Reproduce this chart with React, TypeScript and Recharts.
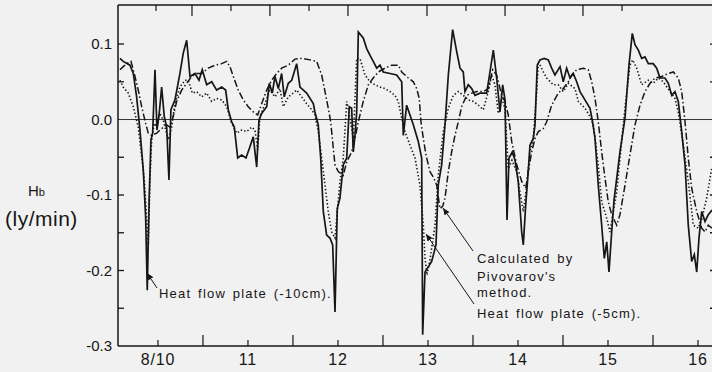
import React from 'react';
import { LineChart, Line, XAxis, YAxis, ReferenceLine } from 'recharts';

const FONT = '"Liberation Sans", Arial, Helvetica, sans-serif';
const INK = '#161616';
const PAPER = '#f1f1f1';

// Axes
const xDomain: [number, number] = [9.556, 16.2];
const yDomain: [number, number] = [-0.3, 0.1517];
const dayTicks = [10, 10.5, 11, 11.5, 12, 12.5, 13, 13.5, 14, 14.5, 15, 15.5, 16];
const dayLabels: Record<string, string> = {
  '10': '8/10', '11': '11', '12': '12', '13': '13', '14': '14', '15': '15', '16': '16',
};
const topTicks = [9.978, 10.378, 10.811, 11.244, 11.678, 12.111, 12.556, 12.989, 13.422, 13.856, 14.289, 14.722, 15.156];
const yTicks = [-0.25, -0.2, -0.15, -0.1, -0.05, 0.05, 0.1];
const yLabelTicks = [-0.3, -0.2, -0.1, 0, 0.1];

// Chart geometry (layout)
const CHART_W = 740;
const CHART_H = 372;
const MARGIN = { top: 5, right: 24, bottom: 0, left: 58 };
const Y_AXIS_W = 60;
const X_AXIS_H = 26;
const PLOT = {
  left: MARGIN.left + Y_AXIS_W,
  top: MARGIN.top,
  width: CHART_W - MARGIN.left - Y_AXIS_W - MARGIN.right,
  height: CHART_H - MARGIN.top - MARGIN.bottom - X_AXIS_H,
};
const sx = (d: number) => PLOT.left + ((d - xDomain[0]) / (xDomain[1] - xDomain[0])) * PLOT.width;
const sy = (v: number) => PLOT.top + ((yDomain[1] - v) / (yDomain[1] - yDomain[0])) * PLOT.height;

// Heat flow plate (-10cm) — solid
const solidDays = [
  9.578, 9.614, 9.689, 9.726, 9.763, 9.8, 9.837, 9.863, 9.881, 9.903, 9.922, 9.941, 9.967, 9.989,
  10.014, 10.041, 10.07, 10.097, 10.122, 10.144, 10.189, 10.244, 10.281, 10.319, 10.356, 10.411,
  10.456, 10.492, 10.541, 10.597, 10.652, 10.708, 10.752, 10.781, 10.819, 10.848, 10.886, 10.93,
  10.978, 11.022, 11.059, 11.097, 11.122, 11.152, 11.208, 11.237, 11.27, 11.3, 11.337, 11.374,
  11.403, 11.448, 11.486, 11.541, 11.578, 11.652, 11.726, 11.744, 11.781, 11.808, 11.837, 11.874,
  11.911, 11.941, 11.967, 11.992, 12.022, 12.059, 12.097, 12.126, 12.152, 12.17, 12.189, 12.208,
  12.226, 12.281, 12.319, 12.356, 12.392, 12.43, 12.467, 12.503, 12.578, 12.652, 12.708, 12.726,
  12.763, 12.8, 12.837, 12.892, 12.93, 12.941, 12.967, 13.041, 13.089, 13.114, 13.152, 13.189,
  13.226, 13.274, 13.319, 13.356, 13.392, 13.411, 13.448, 13.486, 13.522, 13.578, 13.652, 13.689,
  13.726, 13.763, 13.8, 13.83, 13.856, 13.878, 13.9, 13.937, 13.967, 14.003, 14.041, 14.059,
  14.086, 14.114, 14.133, 14.17, 14.189, 14.214, 14.244, 14.292, 14.337, 14.374, 14.411, 14.467,
  14.503, 14.541, 14.578, 14.614, 14.652, 14.689, 14.744, 14.8, 14.826, 14.856, 14.892, 14.93,
  14.959, 14.986, 15.011, 15.041, 15.067, 15.133, 15.189, 15.233, 15.27, 15.3, 15.337, 15.374,
  15.411, 15.448, 15.503, 15.541, 15.578, 15.633, 15.67, 15.708, 15.744, 15.781, 15.819, 15.856,
  15.892, 15.93, 15.959, 15.986, 16.011, 16.041, 16.078, 16.114, 16.156,
];
const solidVals = [
  0.081, 0.077, 0.072, 0.061, 0.03, -0.014, -0.067, -0.129, -0.226, -0.102, -0.027, -0.018, 0.066, -0.014,
  0.008, 0.043, 0.004, -0.01, -0.08, 0.013, 0.026, 0.061, 0.088, 0.105, 0.057, 0.061,
  0.052, 0.066, 0.046, 0.05, 0.039, 0.043, 0.039, 0.013, -0.003, -0.01, -0.051, -0.047,
  -0.051, -0.036, -0.023, -0.063, -0.001, 0.008, 0.017, 0.048, 0.035, 0.057, 0.041, 0.061,
  0.03, 0.048, 0.052, 0.074, 0.043, 0.035, 0.021, 0.01, -0.007, -0.051, -0.122, -0.153,
  -0.157, -0.166, -0.255, -0.118, -0.104, -0.06, -0.051, 0.017, 0.015, -0.043, -0.021, 0.01,
  0.116, 0.108, 0.094, 0.085, 0.077, 0.068, 0.072, 0.063, 0.061, 0.059, 0.05, -0.021,
  0.019, 0.006, -0.007, -0.029, -0.051, -0.285, -0.202, -0.188, -0.166, -0.087, -0.06, -0.007,
  0.059, 0.119, 0.09, 0.068, 0.063, 0.037, 0.046, 0.041, 0.032, 0.035, 0.035, 0.063,
  0.092, 0.055, 0.01, 0.046, 0.026, -0.133, -0.051, -0.043, -0.054, -0.082, -0.149, -0.166,
  -0.113, -0.069, -0.034, -0.025, -0.007, 0.072, 0.079, 0.081, 0.079, 0.068, 0.059, 0.07,
  0.05, 0.068, 0.055, 0.061, 0.05, 0.037, 0.026, 0.015, -0.001, -0.025, -0.087, -0.14,
  -0.184, -0.162, -0.202, -0.149, -0.107, -0.043, 0.002, 0.072, 0.114, 0.099, 0.092, 0.081,
  0.083, 0.074, 0.074, 0.068, 0.055, 0.055, 0.048, 0.032, 0.037, 0.024, -0.016, -0.06,
  -0.14, -0.188, -0.179, -0.202, -0.157, -0.122, -0.135, -0.126, -0.12,
];

// Calculated by Pivovarov's method — dash-dot
const pivDays = [
  9.578, 9.614, 9.652, 9.7, 9.737, 9.781, 9.819, 9.863, 9.892, 9.93, 9.986, 10.041, 10.097, 10.133,
  10.159, 10.208, 10.263, 10.319, 10.374, 10.43, 10.486, 10.559, 10.633, 10.708, 10.763, 10.8,
  10.837, 10.892, 10.948, 11.003, 11.059, 11.108, 11.152, 11.208, 11.263, 11.319, 11.374, 11.448,
  11.522, 11.597, 11.689, 11.763, 11.819, 11.856, 11.892, 11.919, 11.948, 11.967, 12.003, 12.059,
  12.097, 12.152, 12.189, 12.226, 12.281, 12.337, 12.392, 12.448, 12.522, 12.597, 12.67, 12.708,
  12.781, 12.837, 12.874, 12.903, 12.922, 12.948, 12.978, 13.022, 13.067, 13.097, 13.133, 13.163,
  13.189, 13.226, 13.263, 13.3, 13.337, 13.374, 13.43, 13.486, 13.541, 13.614, 13.67, 13.719,
  13.763, 13.819, 13.856, 13.892, 13.93, 13.986, 14.041, 14.086, 14.114, 14.152, 14.189, 14.226,
  14.281, 14.319, 14.374, 14.448, 14.503, 14.559, 14.597, 14.652, 14.726, 14.781, 14.819, 14.856,
  14.892, 14.93, 14.967, 15.003, 15.041, 15.097, 15.133, 15.189, 15.244, 15.3, 15.356, 15.411,
  15.467, 15.522, 15.597, 15.67, 15.726, 15.781, 15.819, 15.856, 15.892, 15.93, 15.986, 16.041,
  16.078, 16.114, 16.156,
];
const pivVals = [
  0.066, 0.07, 0.074, 0.077, 0.061, 0.039, 0.017, -0.005, -0.018, -0.021, -0.018, -0.012, -0.007, -0.01,
  -0.001, 0.024, 0.039, 0.048, 0.057, 0.061, 0.061, 0.068, 0.072, 0.074, 0.077, 0.07,
  0.057, 0.039, 0.026, 0.017, 0.01, 0.006, 0.021, 0.039, 0.052, 0.061, 0.068, 0.072,
  0.08, 0.081, 0.079, 0.077, 0.059, 0.037, 0.015, -0.003, -0.038, -0.06, -0.069, -0.074,
  -0.056, -0.043, -0.025, -0.003, 0.024, 0.046, 0.055, 0.063, 0.068, 0.072, 0.072, 0.063,
  0.055, 0.05, 0.041, 0.028, -0.003, -0.025, -0.047, -0.069, -0.078, -0.087, -0.118, -0.115,
  -0.104, -0.069, -0.043, -0.021, -0.003, 0.017, 0.032, 0.035, 0.037, 0.037, 0.041, 0.066,
  0.059, 0.032, 0.024, 0.006, -0.029, -0.06, -0.082, -0.091, -0.069, -0.043, -0.025, -0.016,
  -0.012, -0.003, 0.019, 0.035, 0.041, 0.05, 0.059, 0.066, 0.068, 0.066, 0.05, 0.028,
  -0.003, -0.043, -0.078, -0.109, -0.126, -0.14, -0.126, -0.087, -0.047, -0.007, 0.019, 0.037,
  0.048, 0.055, 0.057, 0.061, 0.063, 0.055, 0.037, -0.003, -0.051, -0.091, -0.122, -0.144,
  -0.149, -0.14, -0.144,
];

// Heat flow plate (-5cm) — dotted
const dotDays = [
  9.578, 9.614, 9.67, 9.726, 9.781, 9.819, 9.848, 9.874, 9.892, 9.911, 9.93, 9.959, 9.989, 10.022,
  10.059, 10.114, 10.152, 10.189, 10.244, 10.3, 10.337, 10.381, 10.43, 10.486, 10.541, 10.597,
  10.652, 10.708, 10.763, 10.819, 10.874, 10.93, 10.986, 11.041, 11.078, 11.108, 11.133, 11.189,
  11.244, 11.3, 11.356, 11.392, 11.448, 11.503, 11.541, 11.597, 11.652, 11.708, 11.744, 11.781,
  11.819, 11.856, 11.892, 11.93, 11.967, 11.992, 12.022, 12.059, 12.097, 12.133, 12.17, 12.208,
  12.244, 12.3, 12.356, 12.411, 12.467, 12.522, 12.578, 12.633, 12.67, 12.708, 12.744, 12.8,
  12.856, 12.911, 12.948, 12.967, 12.989, 13.022, 13.078, 13.114, 13.17, 13.226, 13.281, 13.337,
  13.392, 13.448, 13.503, 13.559, 13.614, 13.67, 13.708, 13.744, 13.781, 13.819, 13.856, 13.892,
  13.933, 13.986, 14.022, 14.059, 14.097, 14.133, 14.17, 14.208, 14.226, 14.281, 14.319, 14.392,
  14.448, 14.503, 14.559, 14.633, 14.67, 14.744, 14.8, 14.837, 14.892, 14.93, 14.986, 15.022,
  15.059, 15.097, 15.133, 15.189, 15.244, 15.274, 15.319, 15.374, 15.448, 15.503, 15.559, 15.614,
  15.689, 15.744, 15.781, 15.837, 15.892, 15.948, 16.003, 16.044, 16.097, 16.152,
];
const dotVals = [
  0.052, 0.043, 0.035, 0.017, -0.01, -0.049, -0.08, -0.129, -0.168, -0.08, -0.027, -0.005, -0.01, 0.008,
  -0.001, -0.027, -0.01, 0.021, 0.043, 0.052, 0.052, 0.035, 0.037, 0.03, 0.035, 0.024,
  0.028, 0.026, 0.017, -0.005, -0.018, -0.014, -0.016, -0.01, -0.014, -0.04, 0.004, 0.021,
  0.039, 0.03, 0.041, 0.017, 0.03, 0.035, 0.039, 0.03, 0.021, 0.013, 0.006, -0.016,
  -0.051, -0.087, -0.122, -0.149, -0.157, -0.122, -0.082, -0.051, 0.024, 0.002, -0.025, 0.081,
  0.081, 0.059, 0.05, 0.046, 0.043, 0.041, 0.037, 0.032, 0.024, 0.002, -0.016, -0.034,
  -0.051, -0.087, -0.14, -0.184, -0.206, -0.186, -0.14, -0.074, -0.016, 0.015, 0.032, 0.037,
  0.032, 0.026, 0.024, 0.019, 0.013, 0.037, 0.059, 0.046, 0.008, 0.028, 0.015, -0.065,
  -0.054, -0.069, -0.096, -0.122, -0.087, -0.043, -0.025, 0.037, 0.077, 0.063, 0.055, 0.046,
  0.046, 0.037, 0.048, 0.041, 0.024, 0.015, 0.004, -0.007, -0.06, -0.109, -0.131, -0.149,
  -0.122, -0.096, -0.051, 0.015, 0.072, 0.079, 0.068, 0.046, 0.052, 0.048, 0.055, 0.05,
  0.037, 0.028, 0.01, -0.034, -0.082, -0.14, -0.144, -0.131, -0.104, -0.065,
];

const toData = (days: number[], vals: number[]) => days.map((d, i) => ({ d, v: vals[i] }));
const solidData = toData(solidDays, solidVals);
const pivData = toData(pivDays, pivVals);
const dotData = toData(dotDays, dotVals);

const isWhole = (v: number) => Math.abs(v - Math.round(v)) < 1e-6;

const BottomTick = (p: any) => {
  const { x, y, payload } = p;
  const v = payload.value as number;
  const whole = isWhole(v);
  return (
    <g>
      <line x1={x} x2={x} y1={y} y2={y - (whole ? 6 : 11)} stroke={INK} strokeWidth={1.2} />
      {whole && (
        <text x={x} y={y + 19} textAnchor="middle" fontSize={16} fontFamily={FONT} fill={INK} letterSpacing={0.8}>
          {dayLabels[String(Math.round(v))]}
        </text>
      )}
    </g>
  );
};

const LeftLabel = (p: any) => {
  const { x, y, payload } = p;
  const v = payload.value as number;
  return (
    <text x={x} y={y} dy="0.36em" textAnchor="end" fontSize={15} fontFamily={FONT} fill={INK}>
      {v.toFixed(1)}
    </text>
  );
};

const annoStyle = { fontFamily: FONT, fontSize: 13, letterSpacing: 1.2, wordSpacing: 2 } as const;

export default function App() {
  const right = PLOT.left + PLOT.width;
  return (
    <div style={{ position: 'absolute', left: 0, top: 0, width: 712, height: 372, overflow: 'hidden', background: PAPER }}>
      <LineChart width={CHART_W} height={CHART_H} margin={MARGIN}>
        <XAxis
          dataKey="d"
          type="number"
          domain={xDomain}
          allowDataOverflow
          ticks={dayTicks}
          interval={0}
          tickSize={0}
          tickMargin={0}
          height={X_AXIS_H}
          tick={BottomTick}
          tickLine={false}
          axisLine={{ stroke: INK, strokeWidth: 1.5 }}
        />
        <YAxis
          type="number"
          domain={yDomain}
          allowDataOverflow
          ticks={yLabelTicks}
          interval={0}
          tickSize={0}
          tickMargin={6}
          width={Y_AXIS_W}
          tick={LeftLabel}
          tickLine={false}
          axisLine={{ stroke: INK, strokeWidth: 1.5 }}
        />
        <ReferenceLine y={0} stroke="#333" strokeWidth={1} />
        <Line
          data={dotData}
          dataKey="v"
          type="linear"
          stroke={INK}
          strokeWidth={1.6}
          strokeDasharray="1.4 2.2"
          dot={false}
          isAnimationActive={false}
        />
        <Line
          data={pivData}
          dataKey="v"
          type="linear"
          stroke={INK}
          strokeWidth={1.5}
          strokeDasharray="7 2.5 1.5 2.5"
          dot={false}
          isAnimationActive={false}
        />
        <Line
          data={solidData}
          dataKey="v"
          type="linear"
          stroke={INK}
          strokeWidth={1.7}
          dot={false}
          isAnimationActive={false}
        />
      </LineChart>
      <svg width={712} height={372} style={{ position: 'absolute', left: 0, top: 0, pointerEvents: 'none' }}>
        <defs>
          <marker id="ah" markerWidth="8" markerHeight="8" refX="7" refY="3" orient="auto" markerUnits="userSpaceOnUse">
            <path d="M0,0 L7,3 L0,6 Z" fill={INK} />
          </marker>
        </defs>
        {/* frame: top border + inward ticks on top, left and right borders */}
        <line x1={PLOT.left} x2={right} y1={PLOT.top} y2={PLOT.top} stroke={INK} strokeWidth={1.6} />
        <line x1={right} x2={right} y1={PLOT.top} y2={PLOT.top + PLOT.height} stroke={INK} strokeWidth={1.6} />
        {topTicks.map((t, i) => (
          <line key={'tt' + t} x1={sx(t)} x2={sx(t)} y1={PLOT.top} y2={PLOT.top + (i % 2 === 1 ? 11 : 6)} stroke={INK} strokeWidth={1.2} />
        ))}
        {yTicks.map((v) => (
          <line key={'lt' + v} x1={PLOT.left} x2={PLOT.left + 6} y1={sy(v)} y2={sy(v)} stroke={INK} strokeWidth={1.3} />
        ))}
        {yTicks.map((v) => (
          <line key={'rt' + v} x1={right - 6} x2={right} y1={sy(v)} y2={sy(v)} stroke={INK} strokeWidth={1.3} />
        ))}
        <text x={28} y={196} fontFamily={FONT} fontSize={15} fill={INK}>
          H<tspan fontSize={11}>b</tspan>
        </text>
        <text x={5} y={226} fontFamily={FONT} fontSize={21} fill={INK} letterSpacing={0.5}>
          (ly/min)
        </text>
        <line x1={157} y1={288} x2={147} y2={273} stroke={INK} strokeWidth={1} markerEnd="url(#ah)" />
        <text x={159} y={298} fill={INK} style={annoStyle}>Heat flow plate (-10cm).</text>
        <line x1={473} y1={251} x2={443} y2={208} stroke={INK} strokeWidth={1} markerEnd="url(#ah)" />
        <line x1={474} y1={304} x2={426} y2={234} stroke={INK} strokeWidth={1} markerEnd="url(#ah)" />
        <text x={477} y={263} fill={INK} style={annoStyle}>Calculated by</text>
        <text x={477} y={281} fill={INK} style={annoStyle}>Pivovarov's</text>
        <text x={477} y={297} fill={INK} style={annoStyle}>method.</text>
        <text x={477} y={318} fill={INK} style={annoStyle}>Heat flow plate (-5cm).</text>
      </svg>
    </div>
  );
}
